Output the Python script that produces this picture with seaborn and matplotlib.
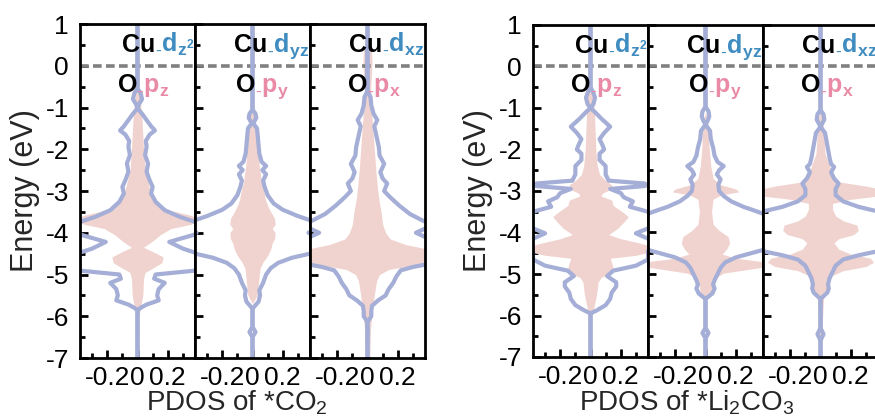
import numpy as np
import pandas as pd
import matplotlib
matplotlib.use("Agg")
import matplotlib.pyplot as plt
import matplotlib.transforms as mtransforms
from matplotlib.ticker import FixedLocator, MultipleLocator, FuncFormatter
import seaborn as sns

# ---- data: half-width of each (symmetric) PDOS vs energy ----
# *CO2, Cu-dz2 / O-pz
co2_dz2_e = [1.0, -0.55, -0.65, -0.8, -0.92, -1.02, -1.15, -1.3, -1.45, -1.55, -1.65, -1.8, -1.94, -2.14,
             -2.34, -2.54, -2.74, -2.9, -3.06, -3.26, -3.46, -3.62, -3.74, -3.86, -4.02, -4.22, -4.38, -4.5,
             -4.7, -4.9, -5.0, -5.1, -5.2, -5.35, -5.5, -5.62, -5.72, -5.8, -5.86, -7.0]
co2_dz2_w = [0.0, 0.0, 0.02, 0.03, 0.01, 0.0, 0.03, 0.06, 0.09, 0.115, 0.08, 0.055, 0.06, 0.05,
             0.07, 0.06, 0.08, 0.1, 0.09, 0.12, 0.18, 0.28, 0.38, 0.45, 0.40, 0.21, 0.30, 0.40,
             0.46, 0.40, 0.12, 0.11, 0.18, 0.14, 0.13, 0.14, 0.06, 0.02, 0.0, 0.0]
co2_pz_e = [1.0, -0.5, -0.6, -0.75, -0.9, -1.3, -2.0, -2.5, -2.8, -3.1, -3.3, -3.45, -3.58, -3.68, -3.8,
            -3.9, -4.05, -4.2, -4.35, -4.45, -4.58, -4.72, -4.85, -4.95, -5.1, -5.5, -5.8, -6.0, -7.0]
co2_pz_w = [0.0, 0.0, 0.02, 0.015, 0.02, 0.03, 0.04, 0.05, 0.07, 0.09, 0.13, 0.2, 0.35, 0.42, 0.35,
            0.22, 0.15, 0.1, 0.04, 0.1, 0.17, 0.16, 0.1, 0.05, 0.04, 0.035, 0.02, 0.01, 0.008]

# *CO2, Cu-dyz / O-py
co2_dyz_e = [1.0, -1.05, -1.15, -1.25, -1.38, -1.5, -1.7, -1.9, -2.1, -2.3, -2.4, -2.5, -2.6, -2.75,
             -2.9, -3.1, -3.3, -3.45, -3.6, -3.7, -3.8, -3.95, -4.0, -4.05, -4.2, -4.4, -4.5, -4.6,
             -4.72, -4.85, -5.0, -5.2, -5.38, -5.5, -5.65, -5.82, -6.25, -6.38, -6.5, -7.0]
co2_dyz_w = [0.0, 0.0, 0.02, 0.025, 0.005, 0.03, 0.035, 0.04, 0.045, 0.06, 0.09, 0.065, 0.09, 0.07,
             0.08, 0.1, 0.14, 0.2, 0.3, 0.38, 0.45, 0.40, 0.37, 0.40, 0.46, 0.45, 0.38, 0.26,
             0.17, 0.12, 0.09, 0.07, 0.045, 0.05, 0.04, 0.0, 0.0, 0.02, 0.0, 0.0]
co2_py_e = [1.0, -1.1, -1.2, -1.3, -1.4, -1.6, -2.0, -2.4, -2.8, -3.0, -3.2, -3.35, -3.5, -3.65,
            -3.8, -3.9, -4.0, -4.15, -4.25, -4.4, -4.55, -4.7, -4.85, -5.2, -5.5, -5.7, -7.0]
co2_py_w = [0.0, 0.0, 0.02, 0.02, 0.01, 0.03, 0.035, 0.045, 0.06, 0.075, 0.085, 0.1, 0.12, 0.145,
            0.15, 0.13, 0.15, 0.145, 0.13, 0.12, 0.1, 0.07, 0.05, 0.04, 0.03, 0.0, 0.0]

# *CO2, Cu-dxz / O-px
co2_dxz_e = [1.0, -0.6, -0.75, -0.95, -1.15, -1.3, -1.45, -1.7, -1.95, -2.15, -2.35, -2.55, -2.7,
             -2.82, -3.0, -3.15, -3.35, -3.55, -3.7, -3.8, -3.9, -4.0, -4.1, -4.3, -4.55, -4.75,
             -4.82, -4.9, -5.05, -5.2, -5.35, -5.5, -5.62, -5.75, -5.88, -6.0, -6.14, -7.0]
co2_dxz_w = [0.0, 0.0, 0.02, 0.025, 0.04, 0.065, 0.045, 0.06, 0.075, 0.08, 0.11, 0.085, 0.1,
             0.13, 0.11, 0.15, 0.21, 0.28, 0.36, 0.42, 0.38, 0.32, 0.38, 0.45, 0.45, 0.40,
             0.3, 0.22, 0.19, 0.17, 0.14, 0.12, 0.07, 0.03, 0.025, 0.025, 0.0, 0.0]
co2_px_e = [0.55, 0.45, 0.1, -0.3, -0.6, -1.0, -1.5, -2.0, -2.5, -2.9, -3.2, -3.5, -3.8, -4.0,
            -4.15, -4.28, -4.38, -4.5, -4.65, -4.78, -4.88, -5.0, -5.15, -5.5, -5.9, -6.3, -7.0]
co2_px_w = [0.0, 0.025, 0.03, 0.025, 0.02, 0.025, 0.035, 0.045, 0.055, 0.065, 0.075, 0.09, 0.1, 0.12,
            0.15, 0.25, 0.38, 0.43, 0.43, 0.3, 0.14, 0.08, 0.06, 0.045, 0.03, 0.02, 0.015]

# *Li2CO3, Cu-dz2 / O-pz
li_dz2_e = [1.0, -0.5, -0.6, -0.75, -0.9, -1.0, -1.1, -1.25, -1.45, -1.6, -1.75, -1.9, -2.0, -2.1,
            -2.25, -2.4, -2.6, -2.75, -2.82, -2.88, -2.95, -3.05, -3.15, -3.25, -3.38, -3.5, -3.6,
            -3.75, -3.9, -4.02, -4.15, -4.3, -4.45, -4.65, -4.8, -4.92, -5.05, -5.2, -5.3, -5.45,
            -5.6, -5.75, -5.88, -5.95, -7.0]
li_dz2_w = [0.0, 0.0, 0.015, 0.03, 0.02, 0.0, 0.03, 0.07, 0.13, 0.09, 0.06, 0.08, 0.09, 0.06,
            0.06, 0.1, 0.1, 0.12, 0.36, 0.36, 0.13, 0.2, 0.22, 0.28, 0.26, 0.38, 0.45,
            0.45, 0.38, 0.3, 0.38, 0.45, 0.38, 0.38, 0.3, 0.15, 0.11, 0.17, 0.17, 0.14,
            0.13, 0.1, 0.04, 0.0, 0.0]
li_pz_e = [1.0, -0.45, -0.6, -1.0, -1.5, -2.0, -2.4, -2.6, -2.75, -2.85, -2.95, -3.05, -3.12, -3.22,
           -3.35, -3.5, -3.62, -3.75, -3.9, -4.05, -4.15, -4.25, -4.35, -4.45, -4.55, -4.62, -4.72,
           -4.85, -4.98, -5.08, -5.2, -5.5, -5.85, -6.0, -7.0]
li_pz_w = [0.0, 0.0, 0.015, 0.025, 0.03, 0.035, 0.045, 0.06, 0.1, 0.14, 0.14, 0.08, 0.07, 0.14,
           0.15, 0.21, 0.25, 0.22, 0.18, 0.12, 0.2, 0.32, 0.42, 0.42, 0.3, 0.13, 0.14,
           0.15, 0.14, 0.07, 0.05, 0.04, 0.02, 0.008, 0.008]

# *Li2CO3, Cu-dyz / O-py
li_dyz_e = [1.0, -0.97, -1.08, -1.2, -1.3, -1.4, -1.55, -1.75, -1.95, -2.15, -2.3, -2.4, -2.5, -2.6,
            -2.72, -2.85, -3.0, -3.12, -3.25, -3.38, -3.48, -3.56, -3.7, -4.3, -4.42, -4.5, -4.6,
            -4.72, -4.85, -5.0, -5.15, -5.25, -5.35, -5.47, -5.6, -6.3, -6.42, -6.55, -7.0]
li_dyz_w = [0.0, 0.0, 0.02, 0.025, 0.015, 0.0, 0.03, 0.035, 0.05, 0.06, 0.08, 0.12, 0.09, 0.075,
            0.1, 0.085, 0.09, 0.12, 0.17, 0.25, 0.33, 0.39, 0.46, 0.46, 0.38, 0.3, 0.2,
            0.13, 0.1, 0.08, 0.06, 0.05, 0.06, 0.045, 0.0, 0.0, 0.02, 0.0, 0.0]
li_py_e = [1.0, -1.1, -1.3, -1.6, -2.0, -2.4, -2.7, -2.85, -2.95, -3.02, -3.1, -3.2, -3.5, -3.8,
           -3.95, -4.1, -4.25, -4.4, -4.52, -4.62, -4.72, -4.8, -4.88, -4.98, -5.1, -5.3, -5.5,
           -5.6, -7.0]
li_py_w = [0.0, 0.0, 0.015, 0.02, 0.025, 0.035, 0.05, 0.1, 0.2, 0.22, 0.1, 0.05, 0.04, 0.05,
           0.09, 0.15, 0.16, 0.14, 0.11, 0.2, 0.42, 0.45, 0.3, 0.12, 0.06, 0.04, 0.035,
           0.0, 0.0]

# *Li2CO3, Cu-dxz / O-px
li_dxz_e = [1.0, -1.05, -1.15, -1.28, -1.45, -1.6, -1.8, -2.0, -2.2, -2.35, -2.42, -2.55, -2.7,
            -2.82, -2.95, -3.1, -3.25, -3.38, -3.45, -3.55, -4.35, -4.45, -4.55, -4.65, -4.8,
            -4.95, -5.1, -5.25, -5.35, -5.45, -5.6, -6.3, -6.45, -6.6, -7.0]
li_dxz_w = [0.0, 0.0, 0.02, 0.025, 0.0, 0.03, 0.04, 0.05, 0.06, 0.07, 0.09, 0.07, 0.09,
            0.12, 0.1, 0.1, 0.15, 0.25, 0.33, 0.45, 0.45, 0.38, 0.25, 0.15, 0.1,
            0.08, 0.06, 0.05, 0.055, 0.045, 0.0, 0.0, 0.02, 0.0, 0.0]
li_px_e = [1.0, -1.0, -1.3, -1.8, -2.1, -2.4, -2.6, -2.78, -2.88, -2.98, -3.1, -3.2, -3.3, -3.45,
           -3.6, -3.72, -3.82, -3.95, -4.05, -4.15, -4.25, -4.4, -4.52, -4.62, -4.72, -4.82,
           -4.92, -5.05, -5.3, -5.6, -7.0]
li_px_w = [0.0, 0.0, 0.015, 0.025, 0.03, 0.06, 0.08, 0.12, 0.3, 0.43, 0.43, 0.2, 0.08, 0.08,
           0.1, 0.15, 0.24, 0.25, 0.22, 0.12, 0.09, 0.12, 0.2, 0.33, 0.35, 0.3,
           0.15, 0.07, 0.05, 0.02, 0.0]

x_ticks = [-0.2, 0.0, 0.2]
x_tick_labels = ["-0.2", "0", "0.2"]
d_labels = [r"$_{\text{-}}\mathbf{d}_{\mathbf{z}^{\mathbf{2}}}$", r"$_{\text{-}}\mathbf{d}_\mathbf{yz}$",
            r"$_{\text{-}}\mathbf{d}_\mathbf{xz}$"]
p_labels = [r"$_{\text{-}}\mathbf{p}_\mathbf{z}$", r"$_{\text{-}}\mathbf{p}_\mathbf{y}$",
            r"$_{\text{-}}\mathbf{p}_\mathbf{x}$"]

BLUE = "#a4aed6"
PINK = "#f0d3cf"
LBL_BLUE = "#3f8cc0"
LBL_PINK = "#e98aa6"

sns.set_theme(style="ticks")
plt.rcParams['font.family'] = ['Liberation Sans', 'DejaVu Sans']
plt.rcParams['mathtext.fontset'] = 'custom'
plt.rcParams['mathtext.rm'] = 'Liberation Sans'
plt.rcParams['mathtext.it'] = 'Liberation Sans:italic'
plt.rcParams['mathtext.bf'] = 'Liberation Sans:bold'
plt.rcParams['axes.unicode_minus'] = False

fig = plt.figure(figsize=(8.75, 4.18), dpi=100)
renderer = fig.canvas.get_renderer()

groups = [
    dict(x0=80 / 875, y0=1 - 358 / 418, h=334 / 418, xlabel="PDOS of *CO$_2$", xl_x=237 / 875, yl_x=25 / 875,
         panels=[(co2_dz2_e, co2_dz2_w, co2_pz_e, co2_pz_w), (co2_dyz_e, co2_dyz_w, co2_py_e, co2_py_w),
                 (co2_dxz_e, co2_dxz_w, co2_px_e, co2_px_w)]),
    dict(x0=533 / 875, y0=1 - 357 / 418, h=332 / 418, xlabel="PDOS of *Li$_2$CO$_3$", xl_x=687 / 875, yl_x=478 / 875,
         panels=[(li_dz2_e, li_dz2_w, li_pz_e, li_pz_w), (li_dyz_e, li_dyz_w, li_py_e, li_py_w),
                 (li_dxz_e, li_dxz_w, li_px_e, li_px_w)]),
]
pw = 115 / 875
LBL_FS = 18


def two_part_label(ax, x, y, black, colored, color, right):
    trans = mtransforms.blended_transform_factory(ax.transAxes, ax.transData)
    if right:
        t2 = ax.text(x, y, colored, transform=trans, ha='right', va='baseline', color=color,
                     fontsize=LBL_FS, zorder=6)
        w = t2.get_window_extent(renderer).width
        ax.text(x, y, black, transform=mtransforms.offset_copy(trans, fig=fig, x=-w, y=0, units='dots'),
                ha='right', va='baseline', fontsize=LBL_FS, fontweight='bold', color='black', zorder=6)
    else:
        t1 = ax.text(x, y, black, transform=ax.transData, ha='left', va='baseline', fontsize=LBL_FS,
                     fontweight='bold', color='black', zorder=6)
        w = t1.get_window_extent(renderer).width
        ax.text(x, y, colored, transform=mtransforms.offset_copy(ax.transData, fig=fig, x=w, y=0, units='dots'),
                ha='left', va='baseline', fontsize=LBL_FS, color=color, zorder=6)


for g in groups:
    for i, (ce, cw, oe, ow) in enumerate(g['panels']):
        ax = fig.add_axes([g['x0'] + i * pw, g['y0'], pw, g['h']])
        oe_a = np.array(oe)
        ow_a = np.array(ow)
        ax.fill_betweenx(oe_a, -ow_a, ow_a, color=PINK, lw=0, zorder=1)
        ax.axhline(0, color="#808080", lw=2.6, dashes=(2.4, 1.2), zorder=2)
        df = pd.DataFrame({'E': ce, 'w': cw})
        for sgn in (1, -1):
            sns.lineplot(x=sgn * df['w'], y=df['E'], sort=False, orient='y', estimator=None, ax=ax,
                         color=BLUE, lw=3.0, zorder=3, solid_joinstyle='round', solid_capstyle='round')
        ax.set_xlim(-0.38, 0.38)
        ax.set_ylim(-7, 1)
        ax.set_xlabel("")
        ax.set_ylabel("")
        ax.xaxis.set_major_locator(FixedLocator(x_ticks))
        ax.xaxis.set_major_formatter(FuncFormatter(lambda v, p: x_tick_labels[x_ticks.index(round(v, 1))]
                                                   if round(v, 1) in x_ticks else ""))
        ax.xaxis.set_minor_locator(FixedLocator([-0.3, -0.1, 0.1, 0.3]))
        ax.yaxis.set_major_locator(MultipleLocator(1))
        ax.yaxis.set_minor_locator(MultipleLocator(0.5))
        ax.yaxis.set_major_formatter(FuncFormatter(lambda v, p: "%d" % round(v)))
        ax.tick_params(which='both', direction='in', top=False, right=False, width=2, color='black',
                       labelsize=19, labelcolor='black')
        ax.tick_params(which='major', length=6)
        ax.tick_params(which='minor', length=3.5)
        ax.tick_params(axis='y', pad=8)
        ax.tick_params(axis='x', pad=6)
        if i > 0:
            ax.tick_params(axis='y', labelleft=False)
        for s in ax.spines.values():
            s.set_linewidth(2)
            s.set_color('black')
            s.set_zorder(5)
        ax.set_facecolor('white')
        two_part_label(ax, 0.995, 0.33, "Cu", d_labels[i], LBL_BLUE, right=True)
        two_part_label(ax, -0.13 if i != 1 else -0.11, -0.62, "O", p_labels[i], LBL_PINK, right=False)
    fig.text(g['xl_x'], 0.018, g['xlabel'], ha='center', va='baseline', fontsize=20)
    fig.text(g['yl_x'], 0.545, "Energy (eV)", ha='center', va='center', rotation=90, fontsize=22)

fig.savefig("out.png", dpi=100)
